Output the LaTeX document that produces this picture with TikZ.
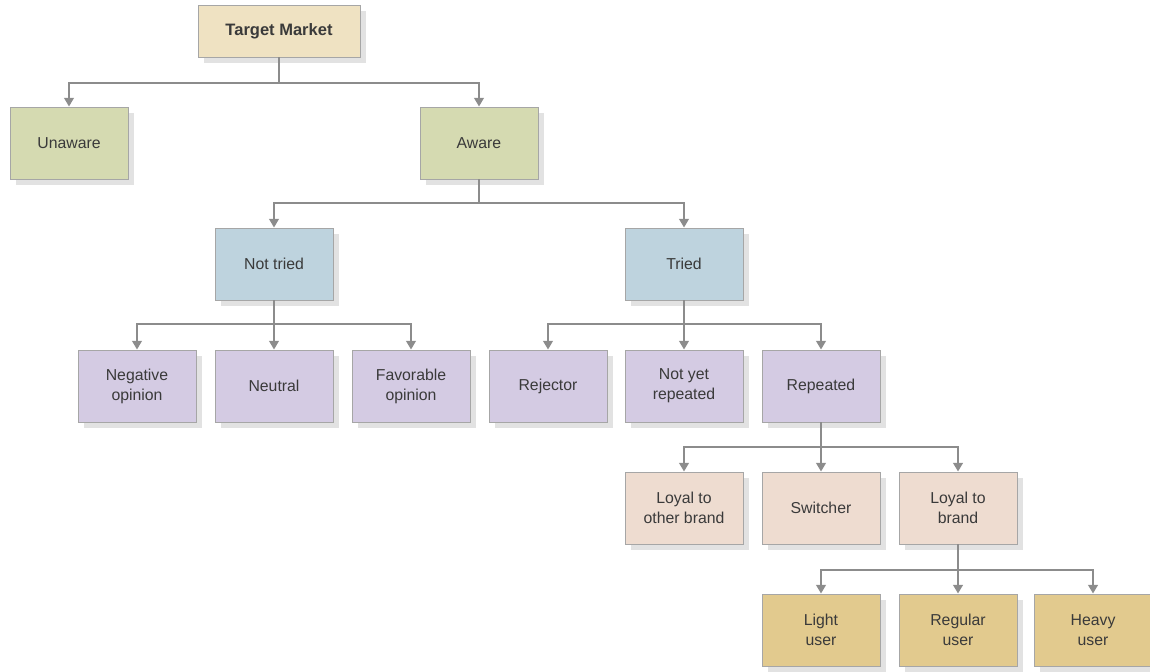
\documentclass[tikz,border=0pt]{standalone}
\usepackage{fontspec}
\setmainfont{Liberation Sans}
\usetikzlibrary{arrows.meta,shadows}
\definecolor{tmfill}{HTML}{EFE2C2}
\definecolor{greenfill}{HTML}{D5DAB1}
\definecolor{bluefill}{HTML}{BED3DE}
\definecolor{purplefill}{HTML}{D4CBE3}
\definecolor{peachfill}{HTML}{EEDCD0}
\definecolor{goldfill}{HTML}{E2CA8E}
\definecolor{linegray}{HTML}{8C8C8C}
\definecolor{txt}{HTML}{3A3A3A}
\definecolor{shade}{HTML}{E2E2E2}
\tikzset{
  box/.style={draw=black!35, line width=0.5pt, minimum width=2.36cm, minimum height=1.44cm,
    align=center, text=txt, font=\fontsize{9}{11.3}\selectfont, inner sep=1pt,
    general shadow={shadow xshift=0.12cm, shadow yshift=-0.12cm, fill=shade}},
  tmbox/.style={box, fill=tmfill, minimum width=3.24cm, minimum height=1.04cm, font=\fontsize{9.4}{11}\selectfont\bfseries},
  gbox/.style={box, fill=greenfill},
  bbox/.style={box, fill=bluefill},
  pbox/.style={box, fill=purplefill},
  cbox/.style={box, fill=peachfill},
  ybox/.style={box, fill=goldfill},
  wire/.style={draw=linegray, line width=1.4pt},
  arr/.style={wire, -{Triangle[length=5pt,width=5.5pt]}},
}
\begin{document}
\begin{tikzpicture}[x=0.02cm,y=-0.02cm]
\useasboundingbox (0,0) rectangle (1150,672);
% tree levels
\node[tmbox] (tm) at (279,31) {Target Market};
\node[gbox] (un) at (69,143) {Unaware};
\node[gbox] (aw) at (479,143) {Aware};
\node[bbox] (nt) at (274,264) {Not tried};
\node[bbox] (tr) at (684,264) {Tried};
\node[pbox] (neg) at (137,386) {Negative\\opinion};
\node[pbox] (neu) at (274,386) {Neutral};
\node[pbox] (fav) at (411,386) {Favorable\\opinion};
\node[pbox] (rej) at (548,386) {Rejector};
\node[pbox] (nyr) at (684,386) {Not yet\\repeated};
\node[pbox] (rep) at (821,386) {Repeated};
\node[cbox] (lob) at (684,508) {Loyal to\\other brand};
\node[cbox] (sw) at (821,508) {Switcher};
\node[cbox] (lb) at (958,508) {Loyal to\\brand};
\node[ybox] (lu) at (821,630) {Light\\user};
\node[ybox] (ru) at (958,630) {Regular\\user};
\node[ybox] (hu) at (1093,630) {Heavy\\user};
% bus points under each parent
\coordinate (b0) at (tm.south |- 0,83);
\coordinate (b1) at (aw.south |- 0,203);
\coordinate (b2) at (nt.south |- 0,324);
\coordinate (b3) at (tr.south |- 0,324);
\coordinate (b4) at (rep.south |- 0,447);
\coordinate (b5) at (lb.south |- 0,570);
% connectors
\draw[wire] (tm.south) -- (b0);
\draw[arr] (b0) -| (un.north);
\draw[arr] (b0) -| (aw.north);
\draw[wire] (aw.south) -- (b1);
\draw[arr] (b1) -| (nt.north);
\draw[arr] (b1) -| (tr.north);
\draw[wire] (nt.south) -- (b2);
\draw[arr] (b2) -| (neg.north);
\draw[arr] (b2) -- (neu.north);
\draw[arr] (b2) -| (fav.north);
\draw[wire] (tr.south) -- (b3);
\draw[arr] (b3) -| (rej.north);
\draw[arr] (b3) -- (nyr.north);
\draw[arr] (b3) -| (rep.north);
\draw[wire] (rep.south) -- (b4);
\draw[arr] (b4) -| (lob.north);
\draw[arr] (b4) -- (sw.north);
\draw[arr] (b4) -| (lb.north);
\draw[wire] (lb.south) -- (b5);
\draw[arr] (b5) -| (lu.north);
\draw[arr] (b5) -- (ru.north);
\draw[arr] (b5) -| (hu.north);
\end{tikzpicture}
\end{document}
